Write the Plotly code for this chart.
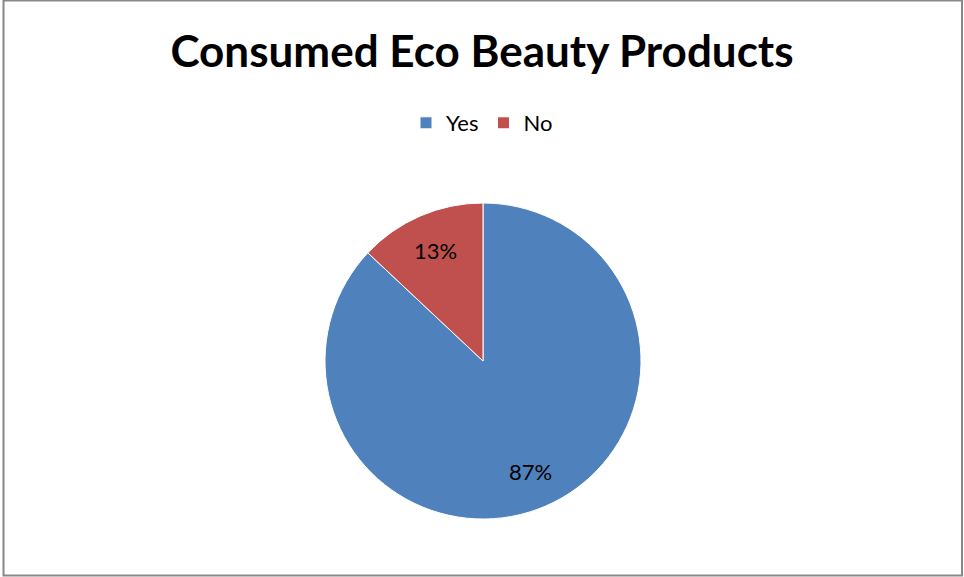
import plotly.graph_objects as go
import math

labels = ["Yes", "No"]
values = [87, 13]
colors = ["#4F81BD", "#C0504D"]
title = "Consumed Eco Beauty Products"

W, H = 964, 577
cx, cy, r = 483, 361, 158

fig = go.Figure(go.Pie(
    labels=labels, values=values, sort=False, direction="clockwise", rotation=0,
    marker=dict(colors=colors, line=dict(color="white", width=1)),
    textinfo="none",
    domain=dict(x=[(cx - r) / W, (cx + r) / W], y=[(H - cy - r) / H, (H - cy + r) / H]),
    hoverinfo="label+percent",
))

# percentage labels placed along each slice's mid angle
total = sum(values)
start = 0.0
annotations = []
for v in values:
    frac = v / total
    mid = (start + frac / 2) * 2 * math.pi  # clockwise from 12 o'clock
    start += frac
    px = cx + 0.76 * r * math.sin(mid)
    py = cy - 0.76 * r * math.cos(mid)
    annotations.append(dict(x=px / W, y=1 - py / H, xref="paper", yref="paper",
                            text=f"{round(frac * 100)}%", showarrow=False,
                            xanchor="center", yanchor="middle",
                            font=dict(family="Lato", size=22, color="black")))

fig.update_layout(
    width=W, height=H, margin=dict(l=0, r=0, t=0, b=0),
    paper_bgcolor="white", plot_bgcolor="white",
    font=dict(family="Lato", color="black"),
    title=dict(text="<b>" + title + "</b>", x=0.5, xanchor="center", y=1 - 52 / H, yanchor="middle",
               font=dict(family="Lato", size=44, color="black")),
    legend=dict(orientation="h", x=0.5, xanchor="center", y=1 - 123 / H, yanchor="middle",
                font=dict(family="Lato", size=22, color="black"), itemwidth=30),
    annotations=annotations,
    shapes=[dict(type="rect", xref="paper", yref="paper", x0=3.5 / W, x1=962 / W, y0=1 - 575.5 / H, y1=1 - 0.5 / H,
                 line=dict(color="#888888", width=2), fillcolor="rgba(0,0,0,0)")],
)

fig.write_html("out.html", config={"displayModeBar": False},
               post_script="document.body.style.margin='0';document.body.style.overflow='hidden';")
